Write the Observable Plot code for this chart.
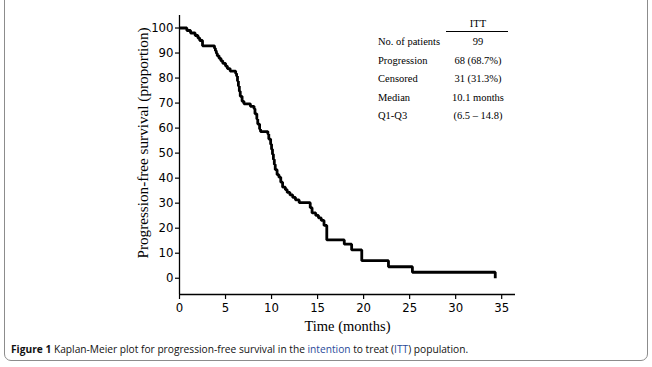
<!DOCTYPE html>
<html><head><meta charset="utf-8">
<script src="https://cdn.jsdelivr.net/npm/d3@7"></script>
<script src="https://cdn.jsdelivr.net/npm/@observablehq/plot@0.6"></script>
<style>
body{margin:0;background:#fff;width:652px;height:367px;overflow:hidden;position:relative;}
#frame{position:absolute;left:4px;top:-10px;width:644px;height:371px;border:1px solid #8c8c8c;border-radius:7px;box-sizing:border-box;}
#chart{position:absolute;left:0;top:0;}
.tb{position:absolute;font-family:"Liberation Serif","Times New Roman",serif;font-size:10.5px;color:#000;white-space:nowrap;line-height:12px;}
.tv{transform:translateX(-50%);}
#rule{position:absolute;left:446px;top:31px;width:62px;height:0;border-top:1.2px solid #000;}
#caption{position:absolute;left:11px;top:342px;font-family:"Open Sans",sans-serif;font-size:10.2px;color:#111;white-space:nowrap;}
#caption b{font-weight:700;}
#caption .lk{color:#2b4a9a;}
</style></head>
<body>
<div id="frame"></div>
<div id="chart"></div>
<div id="tbl"></div>
<div id="caption"><b>Figure 1</b> Kaplan-Meier plot for progression-free survival in the <span class="lk">intention</span> to treat (<span class="lk">ITT</span>) population.</div>
<script>
// Kaplan-Meier step points: time (months) and survival (%)
const times = [0,0.8,1.2,1.7,2.0,2.2,2.5,3.8,3.9,4.0,4.1,4.3,4.5,4.7,5.0,5.2,5.5,6.1,6.2,6.3,6.4,6.5,6.6,6.8,7.0,7.7,8.1,8.2,8.4,8.5,8.7,8.8,9.6,9.7,9.9,10.0,10.1,10.2,10.3,10.4,10.6,10.8,11.0,11.2,11.5,11.7,12.0,12.3,12.6,13.0,14.2,14.4,14.8,15.1,15.4,15.7,16.0,17.9,18.7,19.8,22.7,25.3,34.3,34.3];
const surv  = [100,99.0,98.0,97.0,96.0,95.0,92.9,91.9,90.9,89.9,88.9,87.9,86.9,85.9,84.8,83.8,82.8,81.8,80.8,78.8,76.8,74.7,72.7,70.7,69.7,68.7,67.7,65.7,63.6,61.6,59.6,58.6,57.6,55.6,53.5,51.5,49.5,47.5,45.5,43.4,41.4,40.4,38.4,36.4,35.4,34.3,33.3,32.3,31.3,30.2,28.2,26.1,25.1,24.1,23.1,21.1,15.3,13.6,11.3,7.0,4.6,2.4,2.4,0];
const xTicks = [0,5,10,15,20,25,30,35];
const yTicks = [0,10,20,30,40,50,60,70,80,90,100];
const xLabel = "Time (months)";
const yLabel = "Progression-free survival (proportion)";
const tableHeader = "ITT";
const tableLabels = ["No. of patients","Progression","Censored","Median","Q1-Q3"];
const tableValues = ["99","68 (68.7%)","31 (31.3%)","10.1 months","(6.5 \u2013 14.8)"];
const xDomain = [0, 36.5];
const yDomain = [-6.5, 105];

const km = times.map((t,i)=>({t, s: surv[i]}));
const serif = "'Liberation Serif','Times New Roman',serif";
const tickFont = "'Liberation Sans Narrow','DejaVu Sans Condensed',sans-serif";

const chart = Plot.plot({
  width: 652, height: 340,
  marginLeft: 179, marginRight: 137, marginTop: 15, marginBottom: 46,
  x: {domain: xDomain},
  y: {domain: yDomain},
  style: {background: "transparent", color: "#000"},
  marks: [
    Plot.axisY({ticks: yTicks, tickSize: 4, tickPadding: 2, label: null, fontFamily: tickFont, fontSize: 13, strokeWidth: 1.2}),
    Plot.axisX({ticks: xTicks, tickSize: 5, tickPadding: 3, label: null, fontFamily: tickFont, fontSize: 13, strokeWidth: 1.2}),
    Plot.ruleX([xDomain[0]], {stroke: "#000", strokeWidth: 1.3}),
    Plot.ruleY([yDomain[0]], {stroke: "#000", strokeWidth: 1.3}),
    Plot.line(km, {x: "t", y: "s", curve: "step-after", stroke: "#000", strokeWidth: 2.8, strokeLinejoin: "miter", strokeLinecap: "butt"}),
    Plot.text([yLabel], {frameAnchor: "left", textAnchor: "middle", dx: -36, dy: -12, rotate: -90, fontFamily: serif, fontSize: 15.2, fill: "#000"}),
    Plot.text([xLabel], {frameAnchor: "bottom", dy: 36, fontFamily: serif, fontSize: 14.5, fill: "#000"})
  ]
});
document.getElementById("chart").appendChild(chart);

// summary table
const tbl = document.getElementById("tbl");
let html = `<div class="tb tv" style="left:478px;top:18px">${tableHeader}</div><div id="rule"></div>`;
tableLabels.forEach((lab,i)=>{
  const top = 36 + i*18.6;
  html += `<div class="tb" style="left:378px;top:${top}px">${lab}</div>`;
  html += `<div class="tb tv" style="left:478px;top:${top}px">${tableValues[i]}</div>`;
});
tbl.innerHTML = html;
</script>
</body></html>
